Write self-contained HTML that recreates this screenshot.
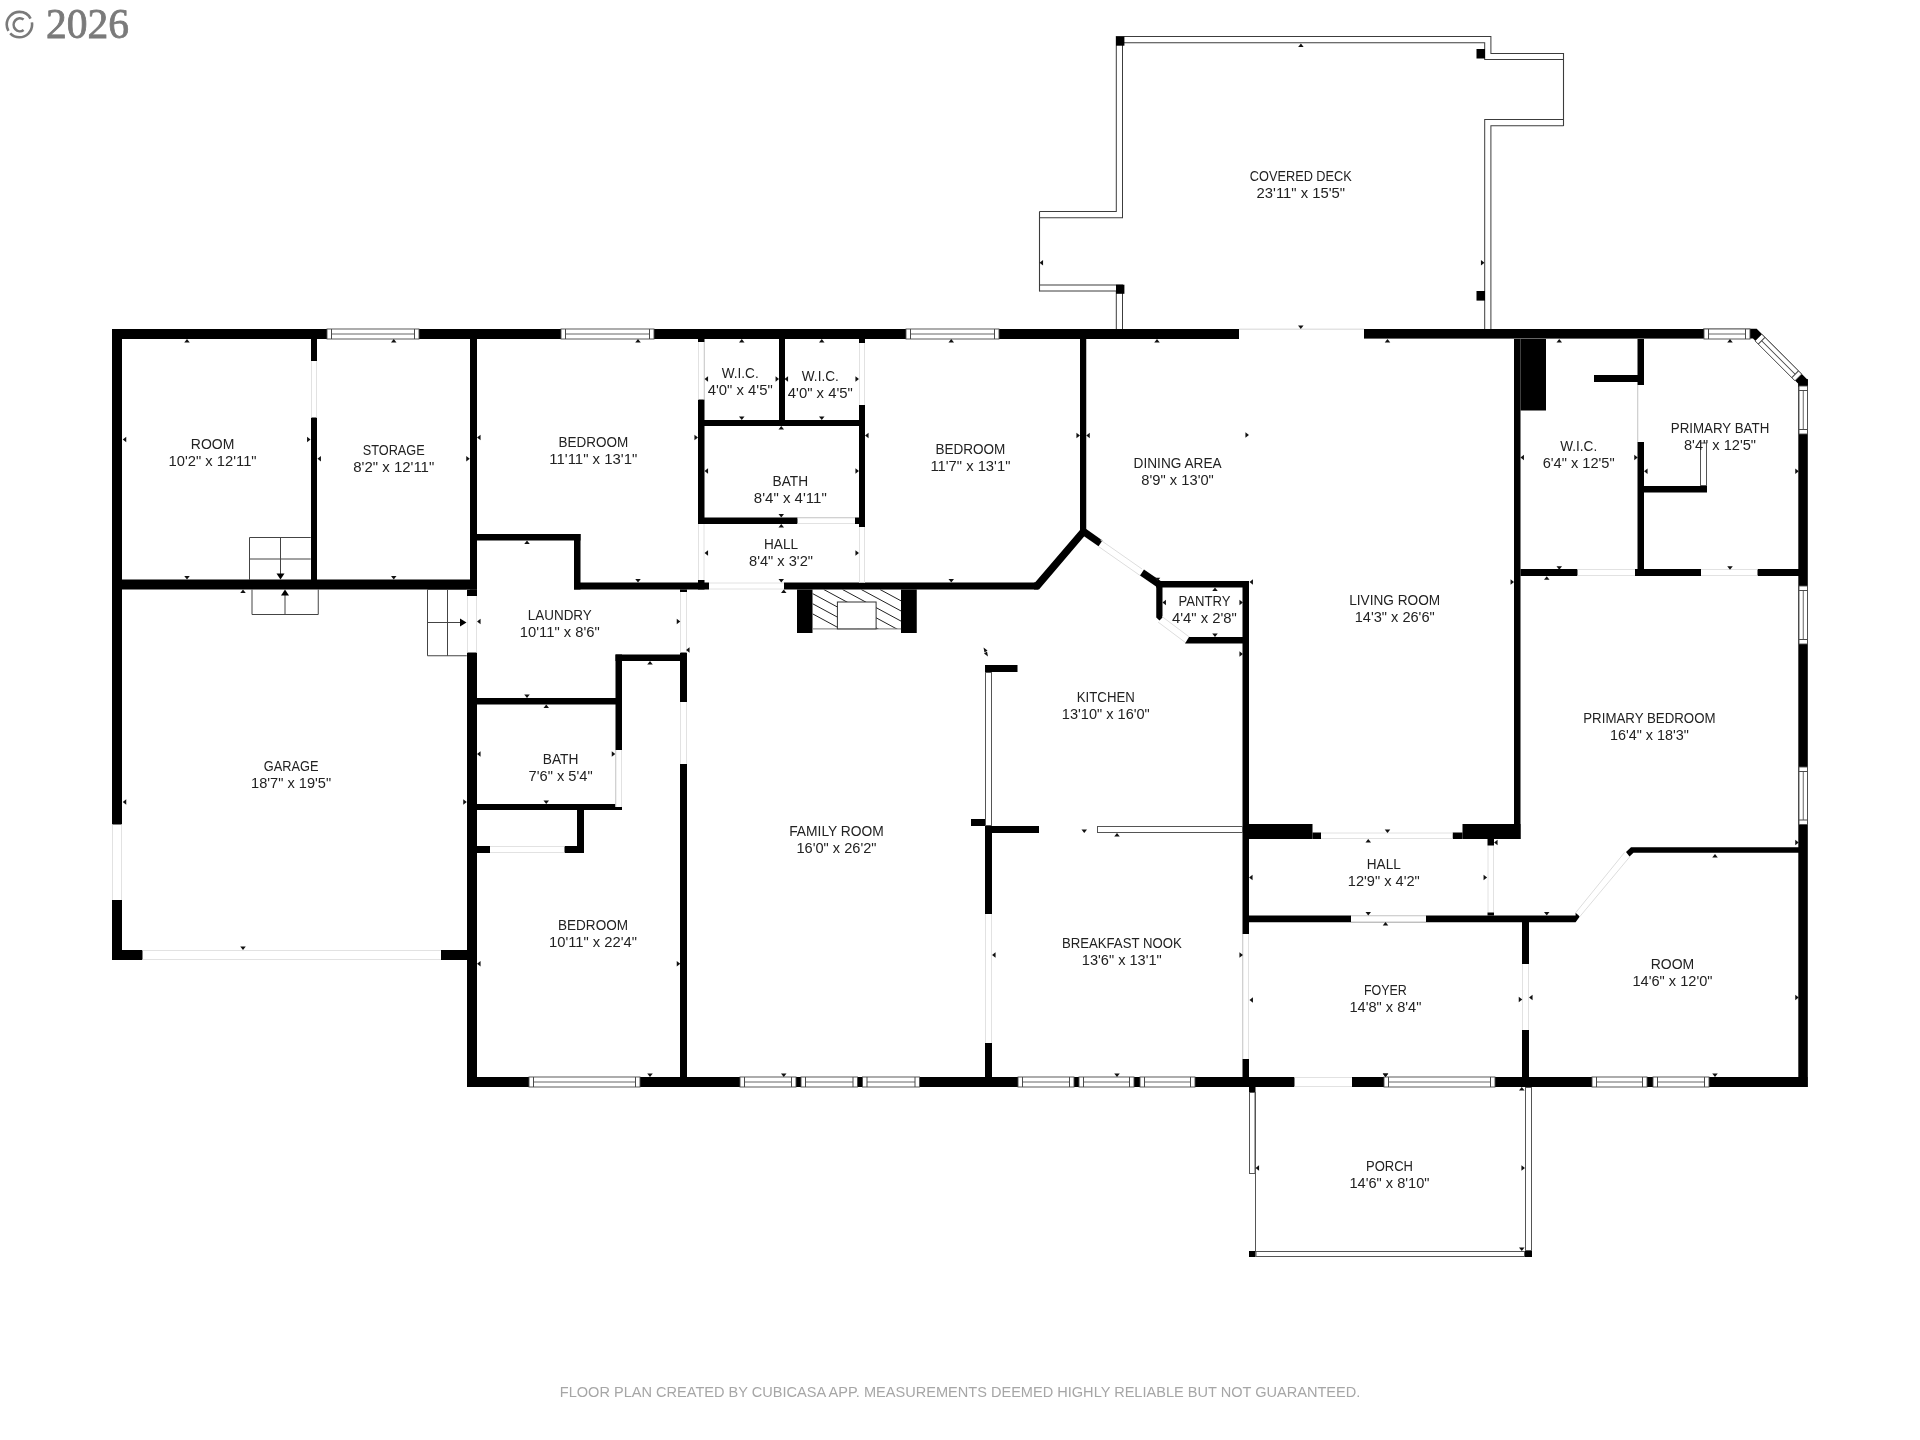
<!DOCTYPE html>
<html><head><meta charset="utf-8"><style>
html,body{margin:0;padding:0;background:#fff;width:1920px;height:1440px;overflow:hidden}
svg{display:block;will-change:transform;font-family:"Liberation Sans",sans-serif;font-size:14px;fill:#1c1c1c}
</style></head><body>
<svg width="1920" height="1440" viewBox="0 0 1920 1440">
<g fill="#222">
<rect x="112" y="329" width="1127" height="10" fill="#000"/>
<rect x="1364" y="329" width="339" height="9.6" fill="#000"/>
<polygon points="1703,328.8 1756.7,328.8 1807.8,379.9 1807.8,387 1798.3,387 1798.3,383.7 1753,338.6 1703,338.6" fill="#000"/>
<rect x="1798.3" y="379" width="9.5" height="708" fill="#000"/>
<rect x="112" y="329" width="10" height="631" fill="#000"/>
<rect x="112" y="950" width="364" height="10" fill="#000"/>
<rect x="467" y="1077" width="1340.5" height="10" fill="#000"/>
<rect x="470" y="339" width="7" height="250.5" fill="#000"/>
<rect x="467" y="589.5" width="10" height="497.5" fill="#000"/>
<rect x="122" y="579.5" width="355" height="10.0" fill="#000"/>
<rect x="311" y="339" width="6" height="241" fill="#000"/>
<rect x="477" y="534" width="103.5" height="6.5" fill="#000"/>
<rect x="574" y="534" width="6.5" height="55.5" fill="#000"/>
<rect x="574" y="582.5" width="135" height="7.0" fill="#000"/>
<rect x="698" y="339" width="6.5" height="185" fill="#000"/>
<rect x="698" y="580" width="6.5" height="9.5" fill="#000"/>
<rect x="779" y="339" width="6" height="81" fill="#000"/>
<rect x="859" y="339" width="6" height="188" fill="#000"/>
<rect x="698" y="420" width="167" height="6" fill="#000"/>
<rect x="698" y="517.5" width="167" height="6.5" fill="#000"/>
<rect x="784" y="582.5" width="254" height="7.0" fill="#000"/>
<rect x="1080" y="339" width="6.25" height="192" fill="#000"/>
<polygon points="1080,530 1086.25,530 1086.25,534 1039,589.5 1034,589.5 1034,582.5 1035,582.5" fill="#000"/>
<rect x="1156" y="581" width="93" height="6.5" fill="#000"/>
<rect x="1242.5" y="581" width="6.5" height="496" fill="#000"/>
<polygon points="1156.25,583 1162.5,583 1162.5,617.5 1159.5,620.5 1156.25,617.5" fill="#000"/>
<line x1="1083.5" y1="531.5" x2="1100.5" y2="543.3" stroke="#000" stroke-width="7"/>
<line x1="1142" y1="572.5" x2="1159.5" y2="584.5" stroke="#000" stroke-width="7"/>
<line x1="1100.5" y1="540" x2="1142" y2="569" stroke="#ddd" stroke-width="1"/>
<line x1="1098.5" y1="546.5" x2="1140" y2="575.5" stroke="#ddd" stroke-width="1"/>
<line x1="1162" y1="616.5" x2="1190" y2="637.5" stroke="#ddd" stroke-width="1"/>
<line x1="1158" y1="622" x2="1186" y2="643" stroke="#ddd" stroke-width="1"/>
<polygon points="1185,643.5 1189,637 1249,637 1249,643.5" fill="#000"/>
<rect x="797" y="589.5" width="15.5" height="43.5" fill="#000"/>
<rect x="901" y="589.5" width="15.75" height="43.5" fill="#000"/>
<rect x="680" y="589.5" width="7" height="487.5" fill="#000"/>
<rect x="615.5" y="654.5" width="71.5" height="6.5" fill="#000"/>
<rect x="615.5" y="654.5" width="6.5" height="152.5" fill="#000"/>
<rect x="477" y="698" width="145" height="6.5" fill="#000"/>
<rect x="477" y="804" width="145" height="6" fill="#000"/>
<rect x="577" y="810" width="7" height="43" fill="#000"/>
<rect x="477" y="846" width="107" height="7" fill="#000"/>
<rect x="985" y="665" width="32.5" height="7" fill="#000"/>
<rect x="971" y="819" width="14" height="7" fill="#000"/>
<rect x="985" y="826" width="54" height="7" fill="#000"/>
<rect x="985" y="826" width="7" height="251" fill="#000"/>
<rect x="1249" y="824" width="63.5" height="15" fill="#000"/>
<rect x="1312.5" y="832.5" width="8.5" height="6.5" fill="#000"/>
<rect x="1462.5" y="824" width="58.0" height="15" fill="#000"/>
<rect x="1452.5" y="832.5" width="10.0" height="6.5" fill="#000"/>
<rect x="1514" y="339" width="6.5" height="500" fill="#000"/>
<polygon points="1249,915.5 1575.6,915.5 1575.6,912.8 1579.8,916.6 1575.6,922.2 1249,922.2" fill="#000"/>
<line x1="1575.6" y1="912.8" x2="1624.5" y2="852.5" stroke="#ddd" stroke-width="1"/>
<line x1="1579.8" y1="916.6" x2="1630" y2="856.5" stroke="#ddd" stroke-width="1"/>
<polygon points="1626,852 1631,847.2 1799,847.2 1799,852.8 1633.5,852.8 1629.5,856.6" fill="#000"/>
<rect x="1522" y="922" width="7" height="155" fill="#000"/>
<rect x="1520.5" y="339" width="25.5" height="71.5" fill="#000"/>
<rect x="1637.5" y="339" width="6.5" height="237" fill="#000"/>
<rect x="1594" y="375" width="50" height="7" fill="#000"/>
<rect x="1644" y="486" width="63" height="6.5" fill="#000"/>
<rect x="1520.5" y="569" width="278.5" height="7" fill="#000"/>
<rect x="1239" y="329" width="125" height="10" fill="#fff"/>
<line x1="1239" y1="329.2" x2="1364" y2="329.2" stroke="#e3e3e3" stroke-width="1.4"/>
<rect x="112" y="824.5" width="10" height="75.5" fill="#fff"/>
<line x1="112.5" y1="824.5" x2="112.5" y2="900" stroke="#e2e2e2" stroke-width="1"/>
<line x1="121.5" y1="824.5" x2="121.5" y2="900" stroke="#e2e2e2" stroke-width="1"/>
<rect x="142.5" y="950" width="298.5" height="10" fill="#fff"/>
<line x1="142.5" y1="950.5" x2="441" y2="950.5" stroke="#e2e2e2" stroke-width="1"/>
<line x1="142.5" y1="959.5" x2="441" y2="959.5" stroke="#e2e2e2" stroke-width="1"/>
<rect x="311" y="361" width="6" height="56.5" fill="#fff"/>
<line x1="311.5" y1="361" x2="311.5" y2="417.5" stroke="#e2e2e2" stroke-width="1"/>
<line x1="316.5" y1="361" x2="316.5" y2="417.5" stroke="#e2e2e2" stroke-width="1"/>
<rect x="467" y="596" width="10" height="56.5" fill="#fff"/>
<line x1="467.5" y1="596" x2="467.5" y2="652.5" stroke="#e2e2e2" stroke-width="1"/>
<line x1="476.5" y1="596" x2="476.5" y2="652.5" stroke="#e2e2e2" stroke-width="1"/>
<rect x="698" y="342" width="6.5" height="57.5" fill="#fff"/>
<line x1="698.5" y1="342" x2="698.5" y2="399.5" stroke="#e2e2e2" stroke-width="1"/>
<line x1="704.0" y1="342" x2="704.0" y2="399.5" stroke="#e2e2e2" stroke-width="1"/>
<rect x="859" y="343" width="6" height="62" fill="#fff"/>
<line x1="859.5" y1="343" x2="859.5" y2="405" stroke="#e2e2e2" stroke-width="1"/>
<line x1="864.5" y1="343" x2="864.5" y2="405" stroke="#e2e2e2" stroke-width="1"/>
<rect x="797.5" y="517.5" width="57.5" height="6.5" fill="#fff"/>
<line x1="797.5" y1="518.0" x2="855" y2="518.0" stroke="#e2e2e2" stroke-width="1"/>
<line x1="797.5" y1="523.5" x2="855" y2="523.5" stroke="#e2e2e2" stroke-width="1"/>
<rect x="859" y="527" width="6" height="55.5" fill="#fff"/>
<line x1="859.5" y1="527" x2="859.5" y2="582.5" stroke="#e2e2e2" stroke-width="1"/>
<line x1="864.5" y1="527" x2="864.5" y2="582.5" stroke="#e2e2e2" stroke-width="1"/>
<rect x="698" y="524" width="6.5" height="56" fill="#fff"/>
<line x1="698.5" y1="524" x2="698.5" y2="580" stroke="#e2e2e2" stroke-width="1"/>
<line x1="704.0" y1="524" x2="704.0" y2="580" stroke="#e2e2e2" stroke-width="1"/>
<rect x="709" y="582.5" width="75" height="7.0" fill="#fff"/>
<line x1="709" y1="583.0" x2="784" y2="583.0" stroke="#e2e2e2" stroke-width="1"/>
<line x1="709" y1="589.0" x2="784" y2="589.0" stroke="#e2e2e2" stroke-width="1"/>
<rect x="680" y="592" width="7" height="60.5" fill="#fff"/>
<line x1="680.5" y1="592" x2="680.5" y2="652.5" stroke="#e2e2e2" stroke-width="1"/>
<line x1="686.5" y1="592" x2="686.5" y2="652.5" stroke="#e2e2e2" stroke-width="1"/>
<rect x="680" y="702" width="7" height="62" fill="#fff"/>
<line x1="680.5" y1="702" x2="680.5" y2="764" stroke="#e2e2e2" stroke-width="1"/>
<line x1="686.5" y1="702" x2="686.5" y2="764" stroke="#e2e2e2" stroke-width="1"/>
<rect x="615.5" y="750" width="6.5" height="57" fill="#fff"/>
<line x1="616.0" y1="750" x2="616.0" y2="807" stroke="#e2e2e2" stroke-width="1"/>
<line x1="621.5" y1="750" x2="621.5" y2="807" stroke="#e2e2e2" stroke-width="1"/>
<rect x="490" y="846" width="74.5" height="7" fill="#fff"/>
<line x1="490" y1="846.5" x2="564.5" y2="846.5" stroke="#e2e2e2" stroke-width="1"/>
<line x1="490" y1="852.5" x2="564.5" y2="852.5" stroke="#e2e2e2" stroke-width="1"/>
<rect x="985" y="914" width="7" height="129" fill="#fff"/>
<line x1="985.5" y1="914" x2="985.5" y2="1043" stroke="#e2e2e2" stroke-width="1"/>
<line x1="991.5" y1="914" x2="991.5" y2="1043" stroke="#e2e2e2" stroke-width="1"/>
<rect x="1242.5" y="934" width="6.5" height="125" fill="#fff"/>
<line x1="1243.0" y1="934" x2="1243.0" y2="1059" stroke="#e2e2e2" stroke-width="1"/>
<line x1="1248.5" y1="934" x2="1248.5" y2="1059" stroke="#e2e2e2" stroke-width="1"/>
<rect x="1294.5" y="1077" width="57.5" height="10" fill="#fff"/>
<line x1="1294.5" y1="1077.5" x2="1352" y2="1077.5" stroke="#e2e2e2" stroke-width="1"/>
<line x1="1294.5" y1="1086.5" x2="1352" y2="1086.5" stroke="#e2e2e2" stroke-width="1"/>
<rect x="1321" y="832.5" width="131.5" height="6.5" fill="#fff"/>
<line x1="1321" y1="833.0" x2="1452.5" y2="833.0" stroke="#e2e2e2" stroke-width="1"/>
<line x1="1321" y1="838.5" x2="1452.5" y2="838.5" stroke="#e2e2e2" stroke-width="1"/>
<rect x="1351" y="915.5" width="75" height="6.5" fill="#fff"/>
<line x1="1351" y1="916.0" x2="1426" y2="916.0" stroke="#e2e2e2" stroke-width="1"/>
<line x1="1351" y1="921.5" x2="1426" y2="921.5" stroke="#e2e2e2" stroke-width="1"/>
<rect x="1522" y="964" width="7" height="66" fill="#fff"/>
<line x1="1522.5" y1="964" x2="1522.5" y2="1030" stroke="#e2e2e2" stroke-width="1"/>
<line x1="1528.5" y1="964" x2="1528.5" y2="1030" stroke="#e2e2e2" stroke-width="1"/>
<rect x="1637.5" y="385" width="6.5" height="57" fill="#fff"/>
<line x1="1638" y1="385" x2="1638" y2="442" stroke="#e3e3e3" stroke-width="1"/>
<rect x="1577.5" y="569" width="57.5" height="7" fill="#fff"/>
<line x1="1577.5" y1="569.5" x2="1635" y2="569.5" stroke="#e2e2e2" stroke-width="1"/>
<line x1="1577.5" y1="575.5" x2="1635" y2="575.5" stroke="#e2e2e2" stroke-width="1"/>
<rect x="1701" y="569" width="56.5" height="7" fill="#fff"/>
<line x1="1701" y1="569.5" x2="1757.5" y2="569.5" stroke="#e2e2e2" stroke-width="1"/>
<line x1="1701" y1="575.5" x2="1757.5" y2="575.5" stroke="#e2e2e2" stroke-width="1"/>
<rect x="327" y="329" width="92" height="10" fill="#fff" stroke="#4a4a4a" stroke-width="0.9"/>
<line x1="331.5" y1="334.0" x2="414.5" y2="334.0" stroke="#666" stroke-width="1"/>
<line x1="331.5" y1="329" x2="331.5" y2="339" stroke="#4a4a4a" stroke-width="1"/>
<line x1="414.5" y1="329" x2="414.5" y2="339" stroke="#4a4a4a" stroke-width="1"/>
<rect x="561" y="329" width="93" height="10" fill="#fff" stroke="#4a4a4a" stroke-width="0.9"/>
<line x1="565.5" y1="334.0" x2="649.5" y2="334.0" stroke="#666" stroke-width="1"/>
<line x1="565.5" y1="329" x2="565.5" y2="339" stroke="#4a4a4a" stroke-width="1"/>
<line x1="649.5" y1="329" x2="649.5" y2="339" stroke="#4a4a4a" stroke-width="1"/>
<rect x="906" y="329" width="93" height="10" fill="#fff" stroke="#4a4a4a" stroke-width="0.9"/>
<line x1="910.5" y1="334.0" x2="994.5" y2="334.0" stroke="#666" stroke-width="1"/>
<line x1="910.5" y1="329" x2="910.5" y2="339" stroke="#4a4a4a" stroke-width="1"/>
<line x1="994.5" y1="329" x2="994.5" y2="339" stroke="#4a4a4a" stroke-width="1"/>
<rect x="1704" y="329" width="46" height="10" fill="#fff" stroke="#4a4a4a" stroke-width="0.9"/>
<line x1="1708.5" y1="334.0" x2="1745.5" y2="334.0" stroke="#666" stroke-width="1"/>
<line x1="1708.5" y1="329" x2="1708.5" y2="339" stroke="#4a4a4a" stroke-width="1"/>
<line x1="1745.5" y1="329" x2="1745.5" y2="339" stroke="#4a4a4a" stroke-width="1"/>
<rect x="529" y="1077" width="111" height="10" fill="#fff" stroke="#4a4a4a" stroke-width="0.9"/>
<line x1="533.5" y1="1082.0" x2="635.5" y2="1082.0" stroke="#666" stroke-width="1"/>
<line x1="533.5" y1="1077" x2="533.5" y2="1087" stroke="#4a4a4a" stroke-width="1"/>
<line x1="635.5" y1="1077" x2="635.5" y2="1087" stroke="#4a4a4a" stroke-width="1"/>
<rect x="740" y="1077" width="56" height="10" fill="#fff" stroke="#4a4a4a" stroke-width="0.9"/>
<line x1="744.5" y1="1082.0" x2="791.5" y2="1082.0" stroke="#666" stroke-width="1"/>
<line x1="744.5" y1="1077" x2="744.5" y2="1087" stroke="#4a4a4a" stroke-width="1"/>
<line x1="791.5" y1="1077" x2="791.5" y2="1087" stroke="#4a4a4a" stroke-width="1"/>
<rect x="801" y="1077" width="56.5" height="10" fill="#fff" stroke="#4a4a4a" stroke-width="0.9"/>
<line x1="805.5" y1="1082.0" x2="853.0" y2="1082.0" stroke="#666" stroke-width="1"/>
<line x1="805.5" y1="1077" x2="805.5" y2="1087" stroke="#4a4a4a" stroke-width="1"/>
<line x1="853.0" y1="1077" x2="853.0" y2="1087" stroke="#4a4a4a" stroke-width="1"/>
<rect x="862.5" y="1077" width="57.0" height="10" fill="#fff" stroke="#4a4a4a" stroke-width="0.9"/>
<line x1="867.0" y1="1082.0" x2="915.0" y2="1082.0" stroke="#666" stroke-width="1"/>
<line x1="867.0" y1="1077" x2="867.0" y2="1087" stroke="#4a4a4a" stroke-width="1"/>
<line x1="915.0" y1="1077" x2="915.0" y2="1087" stroke="#4a4a4a" stroke-width="1"/>
<rect x="1018" y="1077" width="56" height="10" fill="#fff" stroke="#4a4a4a" stroke-width="0.9"/>
<line x1="1022.5" y1="1082.0" x2="1069.5" y2="1082.0" stroke="#666" stroke-width="1"/>
<line x1="1022.5" y1="1077" x2="1022.5" y2="1087" stroke="#4a4a4a" stroke-width="1"/>
<line x1="1069.5" y1="1077" x2="1069.5" y2="1087" stroke="#4a4a4a" stroke-width="1"/>
<rect x="1079" y="1077" width="55" height="10" fill="#fff" stroke="#4a4a4a" stroke-width="0.9"/>
<line x1="1083.5" y1="1082.0" x2="1129.5" y2="1082.0" stroke="#666" stroke-width="1"/>
<line x1="1083.5" y1="1077" x2="1083.5" y2="1087" stroke="#4a4a4a" stroke-width="1"/>
<line x1="1129.5" y1="1077" x2="1129.5" y2="1087" stroke="#4a4a4a" stroke-width="1"/>
<rect x="1140" y="1077" width="55" height="10" fill="#fff" stroke="#4a4a4a" stroke-width="0.9"/>
<line x1="1144.5" y1="1082.0" x2="1190.5" y2="1082.0" stroke="#666" stroke-width="1"/>
<line x1="1144.5" y1="1077" x2="1144.5" y2="1087" stroke="#4a4a4a" stroke-width="1"/>
<line x1="1190.5" y1="1077" x2="1190.5" y2="1087" stroke="#4a4a4a" stroke-width="1"/>
<rect x="1384" y="1077" width="111" height="10" fill="#fff" stroke="#4a4a4a" stroke-width="0.9"/>
<line x1="1388.5" y1="1082.0" x2="1490.5" y2="1082.0" stroke="#666" stroke-width="1"/>
<line x1="1388.5" y1="1077" x2="1388.5" y2="1087" stroke="#4a4a4a" stroke-width="1"/>
<line x1="1490.5" y1="1077" x2="1490.5" y2="1087" stroke="#4a4a4a" stroke-width="1"/>
<rect x="1592" y="1077" width="55" height="10" fill="#fff" stroke="#4a4a4a" stroke-width="0.9"/>
<line x1="1596.5" y1="1082.0" x2="1642.5" y2="1082.0" stroke="#666" stroke-width="1"/>
<line x1="1596.5" y1="1077" x2="1596.5" y2="1087" stroke="#4a4a4a" stroke-width="1"/>
<line x1="1642.5" y1="1077" x2="1642.5" y2="1087" stroke="#4a4a4a" stroke-width="1"/>
<rect x="1653" y="1077" width="56" height="10" fill="#fff" stroke="#4a4a4a" stroke-width="0.9"/>
<line x1="1657.5" y1="1082.0" x2="1704.5" y2="1082.0" stroke="#666" stroke-width="1"/>
<line x1="1657.5" y1="1077" x2="1657.5" y2="1087" stroke="#4a4a4a" stroke-width="1"/>
<line x1="1704.5" y1="1077" x2="1704.5" y2="1087" stroke="#4a4a4a" stroke-width="1"/>
<rect x="1799" y="386" width="8.5" height="48" fill="#fff" stroke="#4a4a4a" stroke-width="0.9"/>
<line x1="1803.25" y1="390.5" x2="1803.25" y2="429.5" stroke="#666" stroke-width="1"/>
<line x1="1799" y1="390.5" x2="1807.5" y2="390.5" stroke="#4a4a4a" stroke-width="1"/>
<line x1="1799" y1="429.5" x2="1807.5" y2="429.5" stroke="#4a4a4a" stroke-width="1"/>
<rect x="1799" y="586" width="8.5" height="58" fill="#fff" stroke="#4a4a4a" stroke-width="0.9"/>
<line x1="1803.25" y1="590.5" x2="1803.25" y2="639.5" stroke="#666" stroke-width="1"/>
<line x1="1799" y1="590.5" x2="1807.5" y2="590.5" stroke="#4a4a4a" stroke-width="1"/>
<line x1="1799" y1="639.5" x2="1807.5" y2="639.5" stroke="#4a4a4a" stroke-width="1"/>
<rect x="1799" y="767" width="8.5" height="57.5" fill="#fff" stroke="#4a4a4a" stroke-width="0.9"/>
<line x1="1803.25" y1="771.5" x2="1803.25" y2="820.0" stroke="#666" stroke-width="1"/>
<line x1="1799" y1="771.5" x2="1807.5" y2="771.5" stroke="#4a4a4a" stroke-width="1"/>
<line x1="1799" y1="820.0" x2="1807.5" y2="820.0" stroke="#4a4a4a" stroke-width="1"/>
<rect x="985.5" y="672.5" width="6" height="153" fill="#fff" stroke="#555" stroke-width="1"/>
<rect x="1097.5" y="826.5" width="145" height="6" fill="#fff" stroke="#555" stroke-width="1"/>
<rect x="1700.5" y="443.0" width="6" height="42.5" fill="#fff" stroke="#555" stroke-width="1"/>
<rect x="1487.5" y="845.5" width="6.5" height="67.0" fill="#fff"/>
<line x1="1488.0" y1="845.5" x2="1488.0" y2="912.5" stroke="#e2e2e2" stroke-width="1"/>
<line x1="1493.5" y1="845.5" x2="1493.5" y2="912.5" stroke="#e2e2e2" stroke-width="1"/>
<rect x="1487.5" y="839" width="6.5" height="6.5" fill="#000"/>
<rect x="1487.5" y="912.5" width="6.5" height="3.0" fill="#000"/>
<rect x="1249" y="1087" width="6.5" height="5" fill="#000"/>
<rect x="1249.5" y="1092.5" width="5.5" height="81" fill="#fff" stroke="#555" stroke-width="1"/>
<line x1="1255.5" y1="1092" x2="1255.5" y2="1252" stroke="#555" stroke-width="1"/>
<rect x="1249" y="1251" width="6.5" height="6" fill="#000"/>
<rect x="1256.0" y="1251.5" width="268.5" height="5" fill="#fff" stroke="#555" stroke-width="1"/>
<rect x="1525.5" y="1087.5" width="6" height="163" fill="#fff" stroke="#555" stroke-width="1"/>
<rect x="1525" y="1251" width="7" height="6" fill="#000"/>
<clipPath id="fh"><rect x="812.7" y="589.5" width="88.4" height="39.4"/></clipPath>
<g clip-path="url(#fh)"><line x1="767.5" y1="589.5" x2="847.5" y2="632.7" stroke="#222" stroke-width="1"/><line x1="786.25" y1="589.5" x2="866.25" y2="632.7" stroke="#222" stroke-width="1"/><line x1="805" y1="589.5" x2="885" y2="632.7" stroke="#222" stroke-width="1"/><line x1="823.75" y1="589.5" x2="903.75" y2="632.7" stroke="#222" stroke-width="1"/><line x1="842.5" y1="589.5" x2="922.5" y2="632.7" stroke="#222" stroke-width="1"/><line x1="861.25" y1="589.5" x2="941.25" y2="632.7" stroke="#222" stroke-width="1"/><line x1="880" y1="589.5" x2="960" y2="632.7" stroke="#222" stroke-width="1"/></g>
<line x1="812.7" y1="628.9" x2="901.1" y2="628.9" stroke="#777" stroke-width="1"/>
<rect x="837.4" y="602" width="38.7" height="26.9" fill="#fff" stroke="#333" stroke-width="1"/>
<path d="M310.75,537.5H249.5V580M280.5,537.5V574M249.5,559H310.75" fill="none" stroke="#444" stroke-width="1"/>
<polygon points="276.5,573.5 284.5,573.5 280.5,579.5" fill="#000"/>
<path d="M252,589.5V614.5H318.25V589.5M285,595V614.5" fill="none" stroke="#444" stroke-width="1"/>
<polygon points="281,595.5 289,595.5 285,589.5" fill="#000"/>
<path d="M466.75,589.5H427.5V655.75H466.75M447.5,589.5V655.75M427.5,622.5H460" fill="none" stroke="#444" stroke-width="1"/>
<polygon points="460,618.5 460,626.5 466.5,622.5" fill="#000"/>
<path d="M1119.4,329V288H1039.5" fill="none" stroke="#3c3c3c" stroke-width="7.2" stroke-linejoin="miter"/>
<path d="M1119.4,329V288H1039.5" fill="none" stroke="#fff" stroke-width="5.2" stroke-linejoin="miter"/>
<path d="M1039.5,214.7H1119.4V39.7H1487.8V56.5H1563.5" fill="none" stroke="#3c3c3c" stroke-width="7.2" stroke-linejoin="miter"/>
<path d="M1039.5,214.7H1119.4V39.7H1487.8V56.5H1563.5" fill="none" stroke="#fff" stroke-width="5.2" stroke-linejoin="miter"/>
<path d="M1563.5,122.7H1487.8V329" fill="none" stroke="#3c3c3c" stroke-width="7.2" stroke-linejoin="miter"/>
<path d="M1563.5,122.7H1487.8V329" fill="none" stroke="#fff" stroke-width="5.2" stroke-linejoin="miter"/>
<line x1="1039.5" y1="211.5" x2="1039.5" y2="291.5" stroke="#3c3c3c" stroke-width="1.1"/>
<line x1="1563.5" y1="53" x2="1563.5" y2="126" stroke="#3c3c3c" stroke-width="1.1"/>
<rect x="1116" y="36.6" width="8.4" height="9.1" fill="#000"/>
<rect x="1116" y="284.7" width="8.4" height="9.1" fill="#000"/>
<rect x="1476.5" y="49" width="8.5" height="9.5" fill="#000"/>
<rect x="1476.5" y="291" width="8.5" height="9.6" fill="#000"/>
<g transform="translate(1761.8,334.2) rotate(45)"><rect x="0" y="0" width="56.4" height="9.5" fill="#fff" stroke="#444" stroke-width="0.9"/><line x1="4.5" y1="4.75" x2="51.9" y2="4.75" stroke="#444" stroke-width="1"/><line x1="4.5" y1="0" x2="4.5" y2="9.5" stroke="#444"/><line x1="51.9" y1="0" x2="51.9" y2="9.5" stroke="#444"/></g>
<polygon points="983.5,647.5 987.5,650.5 984.5,652.5" fill="#111"/>
<polygon points="988,656.5 984,653.5 987,651.5" fill="#111"/>
<polygon points="187,339.05 184.25,342.55 189.75,342.55" fill="#111"/>
<polygon points="122.75,439.5 126.25,436.75 126.25,442.25" fill="#111"/>
<polygon points="310.55,439.5 307.05,436.75 307.05,442.25" fill="#111"/>
<polygon points="187,579.55 184.25,576.05 189.75,576.05" fill="#111"/>
<polygon points="393.75,339.05 391.0,342.55 396.5,342.55" fill="#111"/>
<polygon points="317.45,458.75 320.95,456.0 320.95,461.5" fill="#111"/>
<polygon points="469.75,458.75 466.25,456.0 466.25,461.5" fill="#111"/>
<polygon points="393.75,579.55 391.0,576.05 396.5,576.05" fill="#111"/>
<polygon points="477.05,437.5 480.55,434.75 480.55,440.25" fill="#111"/>
<polygon points="638,339.05 635.25,342.55 640.75,342.55" fill="#111"/>
<polygon points="697.95,437.5 694.45,434.75 694.45,440.25" fill="#111"/>
<polygon points="638,582.45 635.25,578.95 640.75,578.95" fill="#111"/>
<polygon points="527,540.55 524.25,544.05 529.75,544.05" fill="#111"/>
<polygon points="477.05,621.5 480.55,618.75 480.55,624.25" fill="#111"/>
<polygon points="680.25,621.5 676.75,618.75 676.75,624.25" fill="#111"/>
<polygon points="243,589.55 240.25,593.05 245.75,593.05" fill="#111"/>
<polygon points="122.75,802 126.25,799.25 126.25,804.75" fill="#111"/>
<polygon points="466.75,802 463.25,799.25 463.25,804.75" fill="#111"/>
<polygon points="243,950.05 240.25,946.55 245.75,946.55" fill="#111"/>
<polygon points="527,697.95 524.25,694.45 529.75,694.45" fill="#111"/>
<polygon points="546.25,704.55 543.5,708.05 549.0,708.05" fill="#111"/>
<polygon points="477.05,754 480.55,751.25 480.55,756.75" fill="#111"/>
<polygon points="615.25,754 611.75,751.25 611.75,756.75" fill="#111"/>
<polygon points="546.25,803.95 543.5,800.45 549.0,800.45" fill="#111"/>
<polygon points="477.05,963.75 480.55,961.0 480.55,966.5" fill="#111"/>
<polygon points="680.25,963.75 676.75,961.0 676.75,966.5" fill="#111"/>
<polygon points="650,661.05 647.25,664.55 652.75,664.55" fill="#111"/>
<polygon points="650,1076.95 647.25,1073.45 652.75,1073.45" fill="#111"/>
<polygon points="741.75,339.05 739.0,342.55 744.5,342.55" fill="#111"/>
<polygon points="704.55,379 708.05,376.25 708.05,381.75" fill="#111"/>
<polygon points="779.05,379 775.55,376.25 775.55,381.75" fill="#111"/>
<polygon points="741.75,419.95 739.0,416.45 744.5,416.45" fill="#111"/>
<polygon points="821.75,339.05 819.0,342.55 824.5,342.55" fill="#111"/>
<polygon points="784.55,379 788.05,376.25 788.05,381.75" fill="#111"/>
<polygon points="858.95,379 855.45,376.25 855.45,381.75" fill="#111"/>
<polygon points="821.75,419.95 819.0,416.45 824.5,416.45" fill="#111"/>
<polygon points="781.25,426.05 778.5,429.55 784.0,429.55" fill="#111"/>
<polygon points="704.55,471 708.05,468.25 708.05,473.75" fill="#111"/>
<polygon points="858.95,471 855.45,468.25 855.45,473.75" fill="#111"/>
<polygon points="781.25,517.45 778.5,513.95 784.0,513.95" fill="#111"/>
<polygon points="781.25,524.05 778.5,527.55 784.0,527.55" fill="#111"/>
<polygon points="704.55,553 708.05,550.25 708.05,555.75" fill="#111"/>
<polygon points="858.95,553 855.45,550.25 855.45,555.75" fill="#111"/>
<polygon points="781.25,582.45 778.5,578.95 784.0,578.95" fill="#111"/>
<polygon points="783.75,589.55 781.0,593.05 786.5,593.05" fill="#111"/>
<polygon points="865.05,435.5 868.55,432.75 868.55,438.25" fill="#111"/>
<polygon points="951.25,339.05 948.5,342.55 954.0,342.55" fill="#111"/>
<polygon points="1079.95,435.5 1076.45,432.75 1076.45,438.25" fill="#111"/>
<polygon points="951.25,582.45 948.5,578.95 954.0,578.95" fill="#111"/>
<polygon points="1086.25,435.5 1089.75,432.75 1089.75,438.25" fill="#111"/>
<polygon points="1157,339.05 1154.25,342.55 1159.75,342.55" fill="#111"/>
<polygon points="1248.95,435 1245.45,432.25 1245.45,437.75" fill="#111"/>
<polygon points="1300.8,328.95 1298.05,325.45 1303.55,325.45" fill="#111"/>
<polygon points="1215,587.55 1212.25,591.05 1217.75,591.05" fill="#111"/>
<polygon points="1162.45,602.5 1165.95,599.75 1165.95,605.25" fill="#111"/>
<polygon points="1242.95,602.5 1239.45,599.75 1239.45,605.25" fill="#111"/>
<polygon points="1215,636.95 1212.25,633.45 1217.75,633.45" fill="#111"/>
<polygon points="1249.45,582 1252.95,579.25 1252.95,584.75" fill="#111"/>
<polygon points="1242.95,654 1239.45,651.25 1239.45,656.75" fill="#111"/>
<polygon points="1157.5,581.25 1154.75,577.75 1160.25,577.75" fill="#111"/>
<polygon points="686.05,650 689.55,647.25 689.55,652.75" fill="#111"/>
<polygon points="1084.25,832.95 1081.5,829.45 1087.0,829.45" fill="#111"/>
<polygon points="1117,833.05 1114.25,836.55 1119.75,836.55" fill="#111"/>
<polygon points="1368.25,839.05 1365.5,842.55 1371.0,842.55" fill="#111"/>
<polygon points="1249.05,877.5 1252.55,874.75 1252.55,880.25" fill="#111"/>
<polygon points="1368.25,915.45 1365.5,911.95 1371.0,911.95" fill="#111"/>
<polygon points="992.05,955 995.55,952.25 995.55,957.75" fill="#111"/>
<polygon points="1242.95,955 1239.45,952.25 1239.45,957.75" fill="#111"/>
<polygon points="1117,1076.95 1114.25,1073.45 1119.75,1073.45" fill="#111"/>
<polygon points="783.75,1076.95 781.0,1073.45 786.5,1073.45" fill="#111"/>
<polygon points="1249.45,1000 1252.95,997.25 1252.95,1002.75" fill="#111"/>
<polygon points="1255.55,1168 1259.05,1165.25 1259.05,1170.75" fill="#111"/>
<polygon points="1385.5,922.05 1382.75,925.55 1388.25,925.55" fill="#111"/>
<polygon points="1546.75,915.45 1544.0,911.95 1549.5,911.95" fill="#111"/>
<polygon points="1522.25,999.5 1518.75,996.75 1518.75,1002.25" fill="#111"/>
<polygon points="1529.05,997.5 1532.55,994.75 1532.55,1000.25" fill="#111"/>
<polygon points="1798.75,997.5 1795.25,994.75 1795.25,1000.25" fill="#111"/>
<polygon points="1385.5,1076.95 1382.75,1073.45 1388.25,1073.45" fill="#111"/>
<polygon points="1715,1076.95 1712.25,1073.45 1717.75,1073.45" fill="#111"/>
<polygon points="1521.75,1087.05 1519.0,1090.55 1524.5,1090.55" fill="#111"/>
<polygon points="1524.95,1168 1521.45,1165.25 1521.45,1170.75" fill="#111"/>
<polygon points="1521.75,1250.95 1519.0,1247.45 1524.5,1247.45" fill="#111"/>
<polygon points="1387.5,832.95 1384.75,829.45 1390.25,829.45" fill="#111"/>
<polygon points="1494.05,842.5 1497.55,839.75 1497.55,845.25" fill="#111"/>
<polygon points="1487.05,877.5 1483.55,874.75 1483.55,880.25" fill="#111"/>
<polygon points="1715,854.05 1712.25,857.55 1717.75,857.55" fill="#111"/>
<polygon points="1798.75,842.5 1795.25,839.75 1795.25,845.25" fill="#111"/>
<polygon points="1387.5,339.05 1384.75,342.55 1390.25,342.55" fill="#111"/>
<polygon points="1559.25,339.05 1556.5,342.55 1562.0,342.55" fill="#111"/>
<polygon points="1730,339.05 1727.25,342.55 1732.75,342.55" fill="#111"/>
<polygon points="1520.45,457.5 1523.95,454.75 1523.95,460.25" fill="#111"/>
<polygon points="1637.75,457.5 1634.25,454.75 1634.25,460.25" fill="#111"/>
<polygon points="1644.05,471.25 1647.55,468.5 1647.55,474.0" fill="#111"/>
<polygon points="1798.75,471.25 1795.25,468.5 1795.25,474.0" fill="#111"/>
<polygon points="1559.25,569.75 1556.5,566.25 1562.0,566.25" fill="#111"/>
<polygon points="1546.75,576.25 1544.0,579.75 1549.5,579.75" fill="#111"/>
<polygon points="1730,569.75 1727.25,566.25 1732.75,566.25" fill="#111"/>
<polygon points="1514.05,582 1510.55,579.25 1510.55,584.75" fill="#111"/>
<polygon points="1300.9,43.45 1298.15,46.95 1303.65,46.95" fill="#111"/>
<polygon points="1039.55,262.7 1043.05,259.95 1043.05,265.45" fill="#111"/>
<polygon points="1484.45,262.7 1480.95,259.95 1480.95,265.45" fill="#111"/>
<polygon points="1385.5,1076.95 1382.75,1073.45 1388.25,1073.45" fill="#111"/>
<text x="212.6" y="449.2" text-anchor="middle" textLength="43.5" lengthAdjust="spacingAndGlyphs">ROOM</text>
<text x="212.6" y="466.2" text-anchor="middle" textLength="88" lengthAdjust="spacingAndGlyphs">10'2" x 12'11"</text>
<text x="393.75" y="455.2" text-anchor="middle" textLength="62" lengthAdjust="spacingAndGlyphs">STORAGE</text>
<text x="393.75" y="472.2" text-anchor="middle" textLength="81" lengthAdjust="spacingAndGlyphs">8'2" x 12'11"</text>
<text x="593.3" y="447.2" text-anchor="middle" textLength="69.75" lengthAdjust="spacingAndGlyphs">BEDROOM</text>
<text x="593.3" y="464.2" text-anchor="middle" textLength="88" lengthAdjust="spacingAndGlyphs">11'11" x 13'1"</text>
<text x="740.2" y="378.2" text-anchor="middle" textLength="37" lengthAdjust="spacingAndGlyphs">W.I.C.</text>
<text x="740.2" y="395.2" text-anchor="middle" textLength="65" lengthAdjust="spacingAndGlyphs">4'0" x 4'5"</text>
<text x="820.3" y="381.2" text-anchor="middle" textLength="37" lengthAdjust="spacingAndGlyphs">W.I.C.</text>
<text x="820.3" y="398.2" text-anchor="middle" textLength="65" lengthAdjust="spacingAndGlyphs">4'0" x 4'5"</text>
<text x="790.3" y="486.2" text-anchor="middle" textLength="35.5" lengthAdjust="spacingAndGlyphs">BATH</text>
<text x="790.3" y="503.2" text-anchor="middle" textLength="73" lengthAdjust="spacingAndGlyphs">8'4" x 4'11"</text>
<text x="781" y="549.2" text-anchor="middle" textLength="34" lengthAdjust="spacingAndGlyphs">HALL</text>
<text x="781" y="566.2" text-anchor="middle" textLength="64" lengthAdjust="spacingAndGlyphs">8'4" x 3'2"</text>
<text x="559.8" y="620.2" text-anchor="middle" textLength="64" lengthAdjust="spacingAndGlyphs">LAUNDRY</text>
<text x="559.8" y="637.2" text-anchor="middle" textLength="80" lengthAdjust="spacingAndGlyphs">10'11" x 8'6"</text>
<text x="291.1" y="771.2" text-anchor="middle" textLength="54.75" lengthAdjust="spacingAndGlyphs">GARAGE</text>
<text x="291.1" y="788.2" text-anchor="middle" textLength="80" lengthAdjust="spacingAndGlyphs">18'7" x 19'5"</text>
<text x="560.6" y="764.2" text-anchor="middle" textLength="35.75" lengthAdjust="spacingAndGlyphs">BATH</text>
<text x="560.6" y="781.2" text-anchor="middle" textLength="64" lengthAdjust="spacingAndGlyphs">7'6" x 5'4"</text>
<text x="836.5" y="835.7" text-anchor="middle" textLength="94.75" lengthAdjust="spacingAndGlyphs">FAMILY ROOM</text>
<text x="836.5" y="852.7" text-anchor="middle" textLength="80" lengthAdjust="spacingAndGlyphs">16'0" x 26'2"</text>
<text x="593" y="930.2" text-anchor="middle" textLength="70" lengthAdjust="spacingAndGlyphs">BEDROOM</text>
<text x="593" y="947.2" text-anchor="middle" textLength="88" lengthAdjust="spacingAndGlyphs">10'11" x 22'4"</text>
<text x="970.4" y="454.2" text-anchor="middle" textLength="70" lengthAdjust="spacingAndGlyphs">BEDROOM</text>
<text x="970.4" y="471.2" text-anchor="middle" textLength="80" lengthAdjust="spacingAndGlyphs">11'7" x 13'1"</text>
<text x="1177.6" y="468.2" text-anchor="middle" textLength="88" lengthAdjust="spacingAndGlyphs">DINING AREA</text>
<text x="1177.6" y="485.2" text-anchor="middle" textLength="72.5" lengthAdjust="spacingAndGlyphs">8'9" x 13'0"</text>
<text x="1204.4" y="605.7" text-anchor="middle" textLength="52" lengthAdjust="spacingAndGlyphs">PANTRY</text>
<text x="1204.4" y="622.7" text-anchor="middle" textLength="65" lengthAdjust="spacingAndGlyphs">4'4" x 2'8"</text>
<text x="1105.8" y="702.2" text-anchor="middle" textLength="58" lengthAdjust="spacingAndGlyphs">KITCHEN</text>
<text x="1105.8" y="719.2" text-anchor="middle" textLength="88" lengthAdjust="spacingAndGlyphs">13'10" x 16'0"</text>
<text x="1121.8" y="947.7" text-anchor="middle" textLength="119.75" lengthAdjust="spacingAndGlyphs">BREAKFAST NOOK</text>
<text x="1121.8" y="964.7" text-anchor="middle" textLength="80" lengthAdjust="spacingAndGlyphs">13'6" x 13'1"</text>
<text x="1385.4" y="995.2" text-anchor="middle" textLength="43" lengthAdjust="spacingAndGlyphs">FOYER</text>
<text x="1385.4" y="1012.2" text-anchor="middle" textLength="72" lengthAdjust="spacingAndGlyphs">14'8" x 8'4"</text>
<text x="1672.5" y="969.2" text-anchor="middle" textLength="43.5" lengthAdjust="spacingAndGlyphs">ROOM</text>
<text x="1672.5" y="986.2" text-anchor="middle" textLength="80" lengthAdjust="spacingAndGlyphs">14'6" x 12'0"</text>
<text x="1389.5" y="1171.2" text-anchor="middle" textLength="47" lengthAdjust="spacingAndGlyphs">PORCH</text>
<text x="1389.5" y="1188.2" text-anchor="middle" textLength="80" lengthAdjust="spacingAndGlyphs">14'6" x 8'10"</text>
<text x="1649.4" y="722.7" text-anchor="middle" textLength="132.25" lengthAdjust="spacingAndGlyphs">PRIMARY BEDROOM</text>
<text x="1649.4" y="739.7" text-anchor="middle" textLength="79" lengthAdjust="spacingAndGlyphs">16'4" x 18'3"</text>
<text x="1383.8" y="869.2" text-anchor="middle" textLength="34" lengthAdjust="spacingAndGlyphs">HALL</text>
<text x="1383.8" y="886.2" text-anchor="middle" textLength="72" lengthAdjust="spacingAndGlyphs">12'9" x 4'2"</text>
<text x="1578.7" y="451.2" text-anchor="middle" textLength="37" lengthAdjust="spacingAndGlyphs">W.I.C.</text>
<text x="1578.7" y="468.2" text-anchor="middle" textLength="72" lengthAdjust="spacingAndGlyphs">6'4" x 12'5"</text>
<text x="1720" y="432.7" text-anchor="middle" textLength="98.5" lengthAdjust="spacingAndGlyphs">PRIMARY BATH</text>
<text x="1720" y="449.7" text-anchor="middle" textLength="72" lengthAdjust="spacingAndGlyphs">8'4" x 12'5"</text>
<text x="1394.7" y="605.2" text-anchor="middle" textLength="91" lengthAdjust="spacingAndGlyphs">LIVING ROOM</text>
<text x="1394.7" y="622.2" text-anchor="middle" textLength="80" lengthAdjust="spacingAndGlyphs">14'3" x 26'6"</text>
<text x="1300.8" y="181.2" text-anchor="middle" textLength="102" lengthAdjust="spacingAndGlyphs">COVERED DECK</text>
<text x="1300.8" y="198.2" text-anchor="middle" textLength="88.5" lengthAdjust="spacingAndGlyphs">23'11" x 15'5"</text>
</g>
<text x="559.8" y="1397" font-size="15.5" fill="#a6a6a6" textLength="800.5" lengthAdjust="spacingAndGlyphs">FLOOR PLAN CREATED BY CUBICASA APP. MEASUREMENTS DEEMED HIGHLY RELIABLE BUT NOT GUARANTEED.</text>
<text x="46" y="38.4" font-family="Liberation Serif" font-size="42" fill="#7a7a7a" stroke="#7a7a7a" stroke-width="0.8" textLength="83" lengthAdjust="spacingAndGlyphs">2026</text>
<circle cx="19.4" cy="24.6" r="12.7" fill="none" stroke="#7a7a7a" stroke-width="2.6" stroke-dasharray="30 3 40 4 30 3"/>
<path d="M23.6,19.6 A6.2,6.5 0 1 0 23.6,30" fill="none" stroke="#7a7a7a" stroke-width="2.6"/>
</svg>
</body></html>
